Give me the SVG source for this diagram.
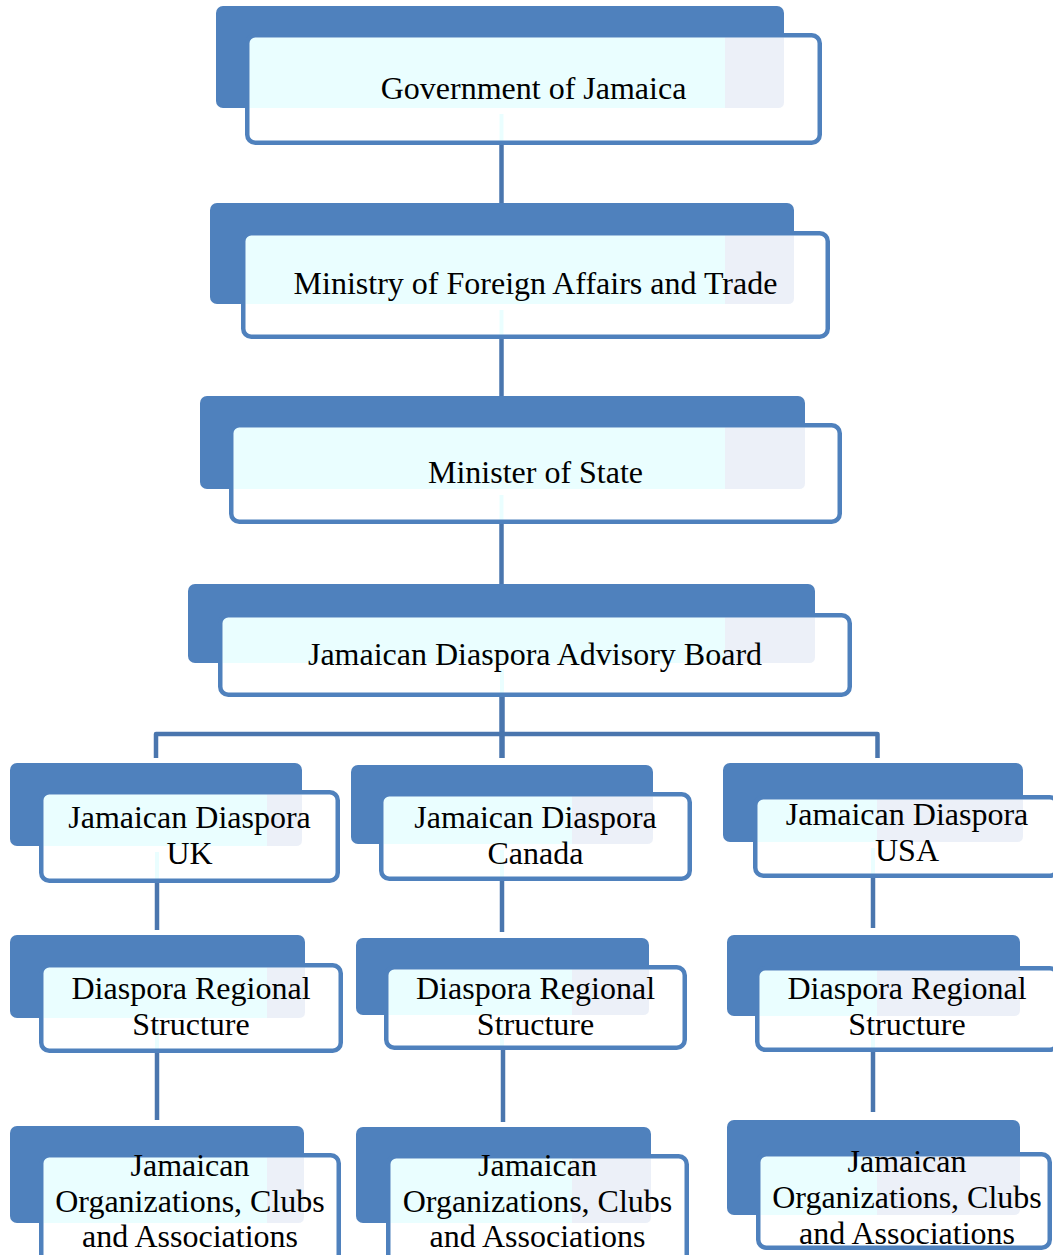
<svg xmlns="http://www.w3.org/2000/svg" width="1053" height="1255" viewBox="0 0 1053 1255">
<style>
.back{fill:#4F81BD}
.frontfill{fill:#FFFFFF}
.frontline{fill:none;stroke:#4F81BD;stroke-width:4.5}
.tc{fill:#EAFEFF}
.tg{fill:#ECF0F8}
.ghost{fill:none;stroke:#EAFEFF;stroke-width:4}
.lbl{font-family:"Liberation Serif","Times New Roman",serif;font-size:32px;fill:#000000;text-anchor:middle}
.conn{fill:none;stroke:#4A76AE;stroke-width:4.5;stroke-linejoin:round}
</style>
<rect width="1053" height="1255" fill="#FFFFFF"/>
<g id="connectors">
<path class="conn" d="M501.5 145 V203"/>
<path class="conn" d="M501.5 339 V396"/>
<path class="conn" d="M501.5 524 V584"/>
<path class="conn" d="M502 697 V758" style="stroke-width:5.5"/>
<path class="conn" d="M156 758 V734 H877.5 V758"/>
<path class="conn" d="M157 883 V930"/>
<path class="conn" d="M157 1053 V1120"/>
<path class="conn" d="M502 881 V932"/>
<path class="conn" d="M503 1050 V1122"/>
<path class="conn" d="M873 878 V928"/>
<path class="conn" d="M873 1052 V1112"/>
</g>
<g id="n1">
<rect class="back" x="216" y="6" width="568" height="102" rx="7"/>
<rect class="frontfill" x="247.25" y="35.25" width="572.5" height="107.5" rx="8"/>
<rect class="tc" x="249.5" y="37.5" width="475.5" height="70.5"/>
<path class="tg" d="M725 37.5 H784 V102 Q784 108 778 108 H725 Z"/>
<path class="ghost" d="M501.5 114 V142"/>
<rect class="frontline" x="247.25" y="35.25" width="572.5" height="107.5" rx="8"/>
<text class="lbl" x="533.5" y="99">Government of Jamaica</text>
</g>
<g id="n2">
<rect class="back" x="210" y="203" width="584" height="101" rx="7"/>
<rect class="frontfill" x="243.25" y="233.25" width="584.5" height="103.5" rx="8"/>
<rect class="tc" x="245.5" y="235.5" width="479.5" height="68.5"/>
<path class="tg" d="M725 235.5 H794 V298 Q794 304 788 304 H725 Z"/>
<path class="ghost" d="M501.5 310 V337"/>
<rect class="frontline" x="243.25" y="233.25" width="584.5" height="103.5" rx="8"/>
<text class="lbl" x="535.5" y="294">Ministry of Foreign Affairs and Trade</text>
</g>
<g id="n3">
<rect class="back" x="200" y="396" width="605" height="93" rx="7"/>
<rect class="frontfill" x="231.25" y="425.25" width="608.5" height="96.5" rx="8"/>
<rect class="tc" x="233.5" y="427.5" width="491.5" height="61.5"/>
<path class="tg" d="M725 427.5 H805 V483 Q805 489 799 489 H725 Z"/>
<path class="ghost" d="M501.5 495 V522"/>
<rect class="frontline" x="231.25" y="425.25" width="608.5" height="96.5" rx="8"/>
<text class="lbl" x="535.5" y="483">Minister of State</text>
</g>
<g id="n4">
<rect class="back" x="188" y="584" width="627" height="79" rx="7"/>
<rect class="frontfill" x="220.25" y="615.25" width="629.5" height="79.5" rx="8"/>
<rect class="tc" x="222.5" y="617.5" width="502.5" height="45.5"/>
<path class="tg" d="M725 617.5 H815 V657 Q815 663 809 663 H725 Z"/>
<path class="ghost" d="M502 669 V695"/>
<rect class="frontline" x="220.25" y="615.25" width="629.5" height="79.5" rx="8"/>
<text class="lbl" x="535" y="665">Jamaican Diaspora Advisory Board</text>
</g>
<g id="uk1">
<rect class="back" x="10" y="763" width="292" height="83" rx="7"/>
<rect class="frontfill" x="41.25" y="792.25" width="296.5" height="88.5" rx="8"/>
<rect class="tc" x="43.5" y="794.5" width="223.5" height="51.5"/>
<path class="tg" d="M267 794.5 H302 V840 Q302 846 296 846 H267 Z"/>
<path class="ghost" d="M157 852 V881"/>
<rect class="frontline" x="41.25" y="792.25" width="296.5" height="88.5" rx="8"/>
<text class="lbl" x="189.5" y="828">Jamaican Diaspora<tspan x="189.5" dy="36">UK</tspan></text>
</g>
<g id="ca1">
<rect class="back" x="351" y="765" width="302" height="79" rx="7"/>
<rect class="frontfill" x="381.25" y="794.25" width="308.5" height="84.5" rx="8"/>
<rect class="tc" x="383.5" y="796.5" width="188.5" height="47.5"/>
<path class="tg" d="M572 796.5 H653 V838 Q653 844 647 844 H572 Z"/>
<path class="ghost" d="M502 850 V879"/>
<rect class="frontline" x="381.25" y="794.25" width="308.5" height="84.5" rx="8"/>
<text class="lbl" x="535.5" y="828">Jamaican Diaspora<tspan x="535.5" dy="36">Canada</tspan></text>
</g>
<g id="us1">
<rect class="back" x="723" y="763" width="300" height="79" rx="7"/>
<rect class="frontfill" x="755.25" y="797.25" width="302.5" height="78.5" rx="8"/>
<rect class="tc" x="757.5" y="799.5" width="119.5" height="42.5"/>
<path class="tg" d="M877 799.5 H1023 V836 Q1023 842 1017 842 H877 Z"/>
<path class="ghost" d="M873 848 V876"/>
<rect class="frontline" x="755.25" y="797.25" width="302.5" height="78.5" rx="8"/>
<text class="lbl" x="907" y="825">Jamaican Diaspora<tspan x="907" dy="36">USA</tspan></text>
</g>
<g id="uk2">
<rect class="back" x="10" y="935" width="295" height="83" rx="7"/>
<rect class="frontfill" x="41.25" y="965.25" width="299.5" height="85.5" rx="8"/>
<rect class="tc" x="43.5" y="967.5" width="223.5" height="50.5"/>
<path class="tg" d="M267 967.5 H305 V1012 Q305 1018 299 1018 H267 Z"/>
<path class="ghost" d="M157 1024 V1051"/>
<rect class="frontline" x="41.25" y="965.25" width="299.5" height="85.5" rx="8"/>
<text class="lbl" x="191" y="999">Diaspora Regional<tspan x="191" dy="36">Structure</tspan></text>
</g>
<g id="ca2">
<rect class="back" x="356" y="938" width="293" height="77" rx="7"/>
<rect class="frontfill" x="386.25" y="967.25" width="298.5" height="80.5" rx="8"/>
<rect class="tc" x="388.5" y="969.5" width="183.5" height="45.5"/>
<path class="tg" d="M572 969.5 H649 V1009 Q649 1015 643 1015 H572 Z"/>
<path class="ghost" d="M502 1021 V1048"/>
<rect class="frontline" x="386.25" y="967.25" width="298.5" height="80.5" rx="8"/>
<text class="lbl" x="535.5" y="999">Diaspora Regional<tspan x="535.5" dy="36">Structure</tspan></text>
</g>
<g id="us2">
<rect class="back" x="727" y="935" width="293" height="81" rx="7"/>
<rect class="frontfill" x="757.25" y="968.25" width="300.5" height="81.5" rx="8"/>
<rect class="tc" x="759.5" y="970.5" width="117.5" height="45.5"/>
<path class="tg" d="M877 970.5 H1020 V1010 Q1020 1016 1014 1016 H877 Z"/>
<path class="ghost" d="M873 1022 V1050"/>
<rect class="frontline" x="757.25" y="968.25" width="300.5" height="81.5" rx="8"/>
<text class="lbl" x="907" y="998.5">Diaspora Regional<tspan x="907" dy="36">Structure</tspan></text>
</g>
<g id="uk3">
<rect class="back" x="10" y="1126" width="294" height="97" rx="7"/>
<rect class="frontfill" x="41.25" y="1155.25" width="297.5" height="107.5" rx="8"/>
<rect class="tc" x="43.5" y="1157.5" width="223.5" height="65.5"/>
<path class="tg" d="M267 1157.5 H304 V1217 Q304 1223 298 1223 H267 Z"/>
<rect class="frontline" x="41.25" y="1155.25" width="297.5" height="107.5" rx="8"/>
<text class="lbl" x="190" y="1176">Jamaican<tspan x="190" dy="35.5">Organizations, Clubs</tspan><tspan x="190" dy="35.5">and Associations</tspan></text>
</g>
<g id="ca3">
<rect class="back" x="356" y="1127" width="295" height="96" rx="7"/>
<rect class="frontfill" x="388.25" y="1156.25" width="298.5" height="106.5" rx="8"/>
<rect class="tc" x="390.5" y="1158.5" width="181.5" height="64.5"/>
<path class="tg" d="M572 1158.5 H651 V1217 Q651 1223 645 1223 H572 Z"/>
<rect class="frontline" x="388.25" y="1156.25" width="298.5" height="106.5" rx="8"/>
<text class="lbl" x="537.5" y="1176">Jamaican<tspan x="537.5" dy="35.5">Organizations, Clubs</tspan><tspan x="537.5" dy="35.5">and Associations</tspan></text>
</g>
<g id="us3">
<rect class="back" x="727" y="1120" width="293" height="95" rx="7"/>
<rect class="frontfill" x="758.25" y="1154.25" width="291.5" height="93.5" rx="8"/>
<rect class="tc" x="760.5" y="1156.5" width="116.5" height="58.5"/>
<path class="tg" d="M877 1156.5 H1020 V1209 Q1020 1215 1014 1215 H877 Z"/>
<rect class="frontline" x="758.25" y="1154.25" width="291.5" height="93.5" rx="8"/>
<text class="lbl" x="907" y="1172">Jamaican<tspan x="907" dy="36">Organizations, Clubs</tspan><tspan x="907" dy="36">and Associations</tspan></text>
</g>
</svg>
